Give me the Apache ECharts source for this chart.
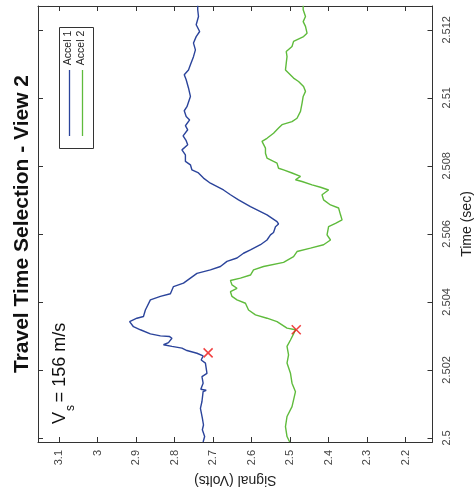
<!DOCTYPE html>
<html><head><meta charset="utf-8">
<script src="https://cdn.jsdelivr.net/npm/echarts@6/dist/echarts.min.js"></script>
<style>html,body{margin:0;padding:0;background:#fff}#c{width:474px;height:487px}</style>
</head><body><div id="c"></div>
<script>
const seriesNames = ['Accel 1', 'Accel 2'];
const seriesColors = ['#2b449b', '#5fbb3c'];
const accel1Time = [2.49988,2.50004,2.50024,2.50038,2.50058,2.50087,2.50107,2.50136,2.50140,2.50143,2.50161,2.50180,2.50190,2.50220,2.50229,2.50241,2.50249,2.50257,2.50264,2.50269,2.50274,2.50280,2.50293,2.50298,2.50300,2.50306,2.50318,2.50327,2.50342,2.50352,2.50357,2.50376,2.50406,2.50416,2.50424,2.50445,2.50455,2.50470,2.50484,2.50494,2.50504,2.50519,2.50529,2.50543,2.50553,2.50568,2.50582,2.50597,2.50604,2.50621,2.50629,2.50636,2.50656,2.50680,2.50700,2.50715,2.50729,2.50749,2.50764,2.50779,2.50788,2.50803,2.50813,2.50832,2.50847,2.50862,2.50874,2.50888,2.50906,2.50918,2.50935,2.50945,2.50962,2.50974,2.51004,2.51029,2.51053,2.51068,2.51082,2.51097,2.51121,2.51141,2.51161,2.51180,2.51195,2.51215,2.51239,2.51259,2.51271];
const accel1Signal = [2.726,2.722,2.728,2.725,2.728,2.733,2.729,2.726,2.718,2.732,2.726,2.729,2.716,2.720,2.731,2.726,2.742,2.768,2.781,2.807,2.829,2.816,2.807,2.813,2.837,2.863,2.889,2.907,2.917,2.898,2.881,2.876,2.863,2.837,2.811,2.803,2.777,2.759,2.742,2.707,2.681,2.664,2.638,2.621,2.603,2.577,2.560,2.551,2.543,2.538,2.530,2.534,2.560,2.603,2.634,2.655,2.673,2.707,2.725,2.738,2.755,2.759,2.772,2.772,2.781,2.766,2.770,2.778,2.766,2.772,2.761,2.770,2.775,2.768,2.759,2.764,2.770,2.775,2.764,2.759,2.751,2.746,2.751,2.744,2.735,2.744,2.738,2.740,2.740];
const accel2Time = [2.49988,2.50004,2.50033,2.50063,2.50092,2.50136,2.50161,2.50190,2.50220,2.50244,2.50269,2.50288,2.50306,2.50318,2.50323,2.50342,2.50352,2.50362,2.50376,2.50396,2.50406,2.50416,2.50430,2.50440,2.50450,2.50463,2.50470,2.50479,2.50494,2.50504,2.50516,2.50533,2.50548,2.50558,2.50568,2.50582,2.50597,2.50621,2.50631,2.50641,2.50656,2.50676,2.50685,2.50700,2.50715,2.50729,2.50737,2.50744,2.50754,2.50759,2.50769,2.50779,2.50788,2.50793,2.50808,2.50813,2.50823,2.50837,2.50852,2.50872,2.50881,2.50896,2.50911,2.50921,2.50930,2.50940,2.50960,2.50984,2.51004,2.51019,2.51033,2.51048,2.51058,2.51082,2.51102,2.51121,2.51136,2.51151,2.51166,2.51180,2.51190,2.51210,2.51224,2.51239,2.51259,2.51271];
const accel2Signal = [2.501,2.508,2.512,2.508,2.495,2.486,2.495,2.499,2.508,2.504,2.508,2.499,2.491,2.486,2.508,2.534,2.560,2.590,2.608,2.616,2.638,2.651,2.655,2.638,2.651,2.655,2.629,2.603,2.595,2.569,2.517,2.491,2.482,2.447,2.413,2.395,2.404,2.400,2.382,2.365,2.369,2.374,2.395,2.413,2.417,2.400,2.421,2.443,2.469,2.486,2.473,2.495,2.517,2.530,2.534,2.543,2.560,2.564,2.564,2.573,2.560,2.543,2.530,2.521,2.495,2.482,2.473,2.469,2.466,2.460,2.465,2.478,2.491,2.512,2.510,2.508,2.510,2.495,2.491,2.465,2.456,2.460,2.466,2.460,2.466,2.466];
const pickSignal = [2.713, 2.484];
const pickTime = [2.50250, 2.50318];
const signalRange = [2.13, 3.155];
const timeRange = [2.49988, 2.5127];
const titleText = 'Travel Time Selection - View 2';
const signalName = 'Signal (Volts)';
const timeName = 'Time (sec)';
const vsMain = 'V', vsSub = 's', vsRest = '= 156 m/s';

const FONT = '"Liberation Sans", Arial, Helvetica, sans-serif';
const AX = '#333';
function pairs(s, t) { return s.map((v, i) => [v, t[i]]); }

const chart = echarts.init(document.getElementById('c'), null, { renderer: 'canvas' });

function sigAxis(pos, labels) {
  return {
    type: 'value', position: pos, inverse: true,
    min: signalRange[0], max: signalRange[1], splitNumber: 10,
    splitLine: { show: false },
    axisLine: { show: true, onZero: false, lineStyle: { color: AX, width: 1 } },
    axisTick: { show: true, inside: true, length: 5, lineStyle: { color: AX } },
    axisLabel: { show: labels, rotate: 90, fontSize: 11, color: '#444', fontFamily: FONT, margin: 8, showMinLabel: false, showMaxLabel: false },
    name: labels ? signalName : '', nameLocation: 'middle', nameGap: 27, nameRotate: 180,
    nameTextStyle: { fontSize: 14, color: '#222', fontFamily: FONT }
  };
}
function timeAxis(pos, labels) {
  return {
    type: 'value', position: pos,
    min: timeRange[0], max: timeRange[1], splitNumber: 6,
    splitLine: { show: false },
    axisLine: { show: true, onZero: false, lineStyle: { color: AX, width: 1 } },
    axisTick: { show: true, inside: true, length: 5, lineStyle: { color: AX } },
    axisLabel: { show: labels, rotate: 90, fontSize: 11, color: '#444', fontFamily: FONT, margin: 9, showMinLabel: false, showMaxLabel: false },
    name: labels ? timeName : '', nameLocation: 'middle', nameGap: 27, nameRotate: 90,
    nameTextStyle: { fontSize: 14, color: '#222', fontFamily: FONT }
  };
}

const R = Math.PI / 2;
const option = {
  animation: false,
  grid: { left: 38, top: 6, right: 41.5, bottom: 45, containLabel: false, outerBoundsMode: 'none' },
  xAxis: [sigAxis('bottom', true), sigAxis('top', false)],
  yAxis: [timeAxis('right', true), timeAxis('left', false)],
  series: [
    { name: seriesNames[0], type: 'line', data: pairs(accel1Signal, accel1Time), showSymbol: false, symbol: 'none',
      lineStyle: { color: seriesColors[0], width: 1.4 }, itemStyle: { color: seriesColors[0] }, z: 3 },
    { name: seriesNames[1], type: 'line', data: pairs(accel2Signal, accel2Time), showSymbol: false, symbol: 'none',
      lineStyle: { color: seriesColors[1], width: 1.4 }, itemStyle: { color: seriesColors[1] }, z: 3 },
    { name: 'Picks', type: 'scatter', data: pairs(pickSignal, pickTime), symbol: 'path://M0,0L10,10M10,0L0,10',
      symbolSize: 9, itemStyle: { color: 'rgba(0,0,0,0)', borderColor: '#ee1111', borderWidth: 1.5 }, z: 5 }
  ],
  graphic: [
    { type: 'text', x: 22, y: 224, rotation: R,
      style: { text: titleText, font: 'bold 21px ' + FONT, fill: '#111', align: 'center', verticalAlign: 'middle' } },
    { type: 'text', x: 60, y: 418, rotation: R,
      style: { text: vsMain, font: '18px ' + FONT, fill: '#111', align: 'center', verticalAlign: 'middle' } },
    { type: 'text', x: 70.5, y: 408, rotation: R,
      style: { text: vsSub, font: '12px ' + FONT, fill: '#111', align: 'center', verticalAlign: 'middle' } },
    { type: 'text', x: 60, y: 362.5, rotation: R,
      style: { text: vsRest, font: '18px ' + FONT, fill: '#111', align: 'center', verticalAlign: 'middle' } },
    { type: 'rect', shape: { x: 59.5, y: 27.5, width: 34, height: 121 }, style: { fill: '#fff', stroke: AX, lineWidth: 1 }, z: 10 },
    { type: 'line', shape: { x1: 69.5, y1: 136, x2: 69.5, y2: 70 }, style: { stroke: seriesColors[0], lineWidth: 1.3 }, z: 11 },
    { type: 'line', shape: { x1: 82.5, y1: 136, x2: 82.5, y2: 70 }, style: { stroke: seriesColors[1], lineWidth: 1.3 }, z: 11 },
    { type: 'text', x: 68, y: 48, rotation: R, z: 11,
      style: { text: seriesNames[0], font: '10.5px ' + FONT, fill: '#222', align: 'center', verticalAlign: 'middle' } },
    { type: 'text', x: 81, y: 48, rotation: R, z: 11,
      style: { text: seriesNames[1], font: '10.5px ' + FONT, fill: '#222', align: 'center', verticalAlign: 'middle' } }
  ]
};
chart.setOption(option);
</script>
</body></html>
